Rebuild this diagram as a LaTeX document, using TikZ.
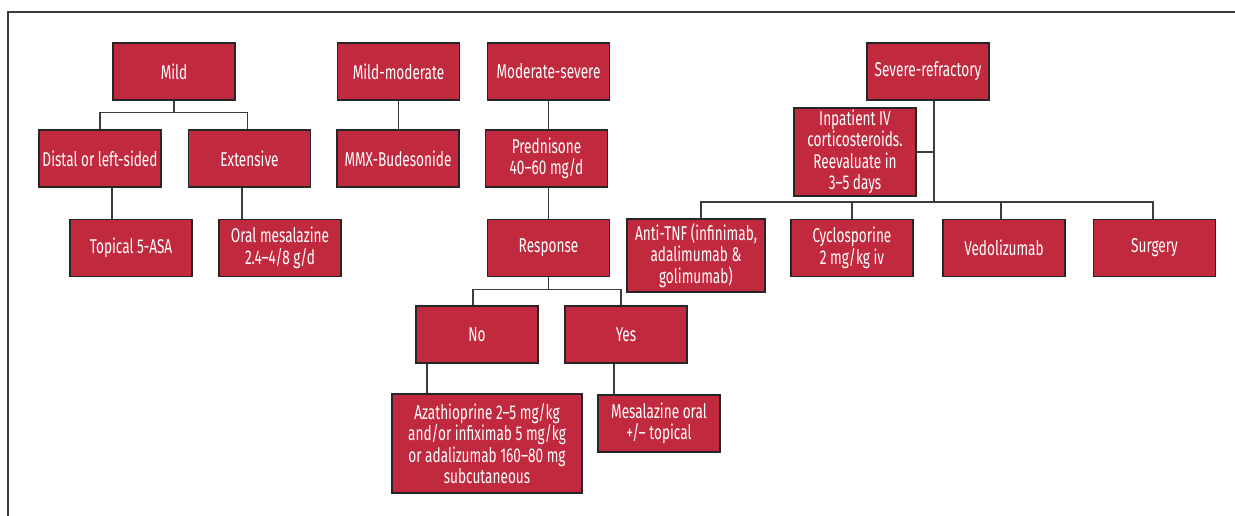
\documentclass[tikz,border=0pt]{standalone}
\usepackage{fontspec}
\setmainfont{Fira Sans}[FakeStretch=0.68]
\usepackage{tikz}
\usetikzlibrary{positioning}
\definecolor{boxred}{RGB}{193,42,62}
\definecolor{linegray}{RGB}{60,60,60}
\newcommand{\boxfont}{\fontsize{20}{21.5}\selectfont}
\tikzset{
      redbox/.style={
        draw=black!85,
        line width=1.2pt,
        fill=boxred,
        text=white,
        minimum width=122,
        minimum height=57,
        inner sep=0pt,
        align=center,
        font=\boxfont
      },
      link/.style={
        line width=1.1pt,
        color=linegray
      }
    }
\begin{document}
\begin{tikzpicture}[x=1pt,y=-1pt]
    \useasboundingbox (0,0) rectangle (1235,516);
    \draw[link] (1236,12) -- (8,12) -- (8,517);
    % top row
    \node[redbox] (mild) at (174,71.5) {Mild};
    \node[redbox] (mildmod) at (398.5,71.5) {Mild-moderate};
    \node[redbox] (modsev) at (548.5,71.5) {Moderate-severe};
    \node[redbox] (severe) at (928,71.5) {Severe-refractory};
    % second row
    \node[redbox] (distal) at (100,158.5) {Distal or left-sided};
    \node[redbox] (extensive) at (249.5,158.5) {Extensive};
    \node[redbox] (mmx) at (398,158.5) {MMX-Budesonide};
    \node[redbox] (prednisone) at (546.5,158.5) {Prednisone\\40--60 mg/d};
    \node[redbox, minimum height=88] (inpatient) at (855,152) {Inpatient IV\\corticosteroids.\\Reevaluate in\\3--5 days};
    % third row
    \node[redbox] (topical) at (131,248) {Topical 5-ASA};
    \node[redbox] (oral) at (280,248) {Oral mesalazine\\2.4--4/8 g/d};
    \node[redbox] (response) at (548.5,248) {Response};
    \node[redbox, minimum width=138, minimum height=73] (antitnf) at (696,255.5) {Anti-TNF (infinimab,\\adalimumab \&\\golimumab)};
    \node[redbox] (cyclo) at (852,248) {Cyclosporine\\2 mg/kg iv};
    \node[redbox] (vedo) at (1004,248) {Vedolizumab};
    \node[redbox] (surgery) at (1154.5,248) {Surgery};
    % response branches
    \node[redbox] (no) at (477,334.5) {No};
    \node[redbox] (yes) at (626,334.5) {Yes};
    \node[redbox, minimum width=190, minimum height=99] (aza) at (487,443.5) {Azathioprine 2--5 mg/kg\\and/or infiximab 5 mg/kg\\or adalizumab 160--80 mg\\subcutaneous};
    \node[redbox] (mesal) at (659,423.5) {Mesalazine oral\\+/-- topical};
    % connectors
    \draw[link] (mild.south) -- ++(0,12) -| (distal.north);
    \draw[link] (mild.south) -- ++(0,12) -| ([xshift=-2]extensive.north);
    \draw[link] ([xshift=12]distal.south) -- ([xshift=12]distal.south |- topical.north);
    \draw[link] ([xshift=-7.5]extensive.south) -- ([xshift=-7.5]extensive.south |- oral.north);
    \draw[link] (mildmod.south) -- (mildmod.south |- mmx.north);
    \draw[link] (modsev.south) -- (modsev.south |- prednisone.north);
    \draw[link] (prednisone.south -| response.north) -- (response.north);
    \draw[link] (response.south) -- ++(0,12) -| ([xshift=-4]no.north);
    \draw[link] (response.south) -- ++(0,12) -| ([xshift=-5]yes.north);
    \draw[link] ([xshift=-50]no.south) -- ([xshift=-50]no.south |- aza.north);
    \draw[link] ([xshift=-12]yes.south) -- ([xshift=-12]yes.south |- mesal.north);
    \coordinate (bus) at (934,202);
    \draw[link] (severe.south -| bus) -- (bus);
    \draw[link] (inpatient.east) -- (inpatient.east -| bus);
    \draw[link] ([xshift=5]antitnf.north) |- (bus) -| ([xshift=-1.5]surgery.north);
    \draw[link] (cyclo.north) -- (cyclo.north |- bus);
    \draw[link] ([xshift=-3]vedo.north) -- ([xshift=-3]vedo.north |- bus);
    \end{tikzpicture}
\end{document}
